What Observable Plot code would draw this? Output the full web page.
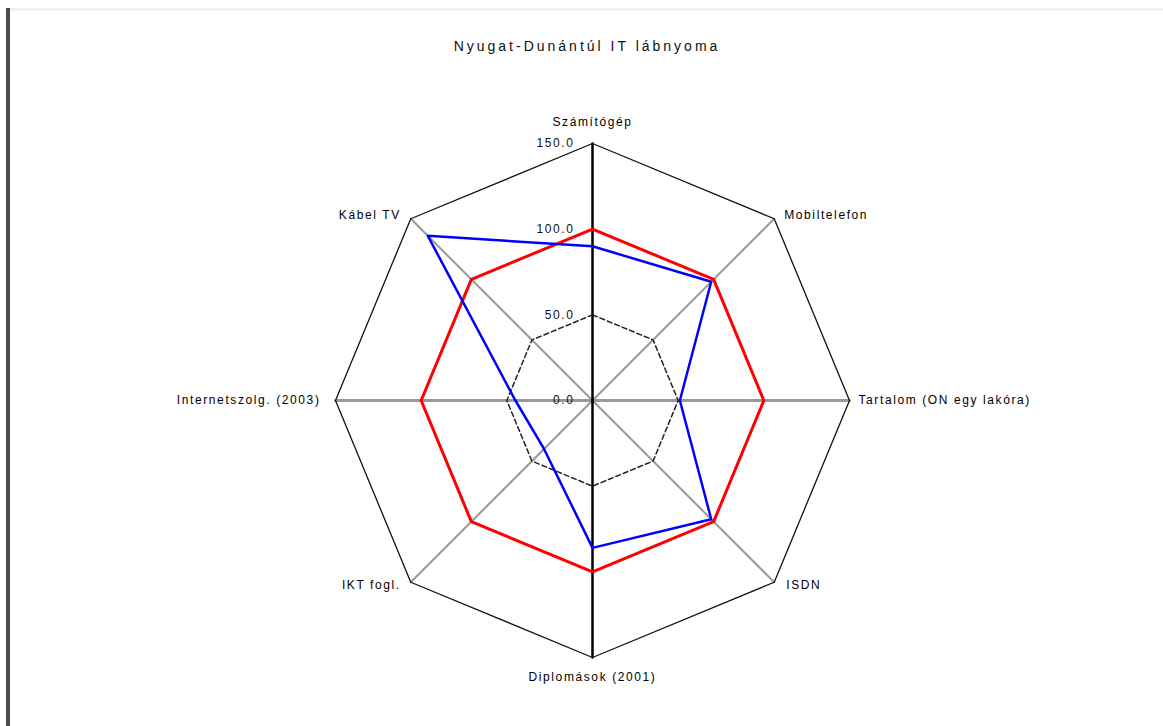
<!DOCTYPE html>
<html>
<head>
<meta charset="utf-8">
<script src="https://cdn.jsdelivr.net/npm/d3@7"></script>
<script src="https://cdn.jsdelivr.net/npm/@observablehq/plot@0.6"></script>
<style>
  html, body { margin: 0; padding: 0; background: #fff; }
  #wrap { position: relative; width: 1163px; height: 726px; overflow: hidden; font-family: "Liberation Sans", Arial, sans-serif; }
  #leftbar { position: absolute; left: 6px; top: 8px; width: 4px; height: 718px; background: #4d4d4d; }
  #topbar { position: absolute; left: 10px; top: 8px; width: 1153px; height: 3px; background: #f0f0f0; }
  #title { position: absolute; left: 0; top: 38px; width: 1174px; text-align: center; font-size: 14px; letter-spacing: 3px; color: #111; }
  #chart { position: absolute; left: 0; top: 0; }
  #chart svg text { letter-spacing: 1.6px; }
</style>
</head>
<body>
<div id="wrap">
  <div id="leftbar"></div>
  <div id="topbar"></div>
  <div id="chart"></div>
  <div id="title">Nyugat-Dunántúl IT lábnyoma</div>
</div>
<script>
// ---- data ----
const categories = ["Számítógép", "Mobiltelefon", "Tartalom (ON egy lakóra)", "ISDN", "Diplomások (2001)", "IKT fogl.", "Internetszolg. (2003)", "Kábel TV"];
const regionValues = [90, 98, 51, 98, 86, 40, 45, 136];     // Nyugat-Dunántúl (blue)
const averageValues = [100, 100, 100, 100, 100, 100, 100, 100]; // Országos átlag (red)
const tickValues = [0, 50, 100, 150];
const tickLabels = ["0.0", "50.0", "100.0", "150.0"];
const rMax = 150;

// ---- geometry helpers ----
const n = categories.length;
const angle = i => (2 * Math.PI * i) / n; // clockwise from top
const pt = (i, r) => ({x: r * Math.sin(angle(i)), y: r * Math.cos(angle(i))});
const ring = r => d3.range(n + 1).map(i => pt(i % n, r));
const series = (vals, name) => d3.range(n + 1).map(i => ({...pt(i % n, vals[i % n]), name}));

const spokes = d3.range(n).flatMap(i => [{...pt(i, 0), i}, {...pt(i, rMax), i}]);
const labels = categories.map((c, i) => ({...pt(i, rMax), label: c, i}));
const ticks = tickValues.map((v, k) => ({x: 0, y: v, label: tickLabels[k]}));

const cx = 592, cy = 400, R = 257;

const plot = Plot.plot({
  width: 1163,
  height: 726,
  margin: 0,
  style: {fontFamily: "'Liberation Sans', Arial, sans-serif", fontSize: "12px", background: "transparent"},
  x: {domain: [-rMax, rMax], range: [cx - R, cx + R], axis: null},
  y: {domain: [-rMax, rMax], range: [cy + R, cy - R], axis: null},
  marks: [
    // diagonal spokes (gray)
    Plot.line(spokes.filter(d => d.i % 2 === 1), {x: "x", y: "y", z: "i", stroke: "#999", strokeWidth: 2}),
    // horizontal spokes (gray, thicker)
    Plot.line(spokes.filter(d => d.i === 2 || d.i === 6), {x: "x", y: "y", z: "i", stroke: "#999", strokeWidth: 3}),
    // bottom vertical spoke (black)
    Plot.line(spokes.filter(d => d.i === 4), {x: "x", y: "y", z: "i", stroke: "#000", strokeWidth: 2.5}),
    // rings
    Plot.line(ring(50), {x: "x", y: "y", stroke: "#222", strokeWidth: 1.5, strokeDasharray: "5,3"}),
    Plot.line(ring(100), {x: "x", y: "y", stroke: "#999", strokeWidth: 1.5, strokeDasharray: "5,3"}),
    Plot.line(ring(150), {x: "x", y: "y", stroke: "#111", strokeWidth: 1.3}),
    // value axis (black, vertical)
    Plot.line(spokes.filter(d => d.i === 0), {x: "x", y: "y", z: "i", stroke: "#000", strokeWidth: 2.5}),
    // series
    Plot.line(series(averageValues, "Országos átlag"), {x: "x", y: "y", stroke: "#ff0000", strokeWidth: 3, curve: "linear-closed"}),
    Plot.line(series(regionValues, "Nyugat-Dunántúl"), {x: "x", y: "y", stroke: "#0000ff", strokeWidth: 2.5, curve: "linear-closed"}),
    // tick labels
    Plot.text(ticks, {x: "x", y: "y", text: "label", textAnchor: "end", dx: -18, dy: 0, fill: "#111"}),
    // category labels
    Plot.text(labels.filter(d => d.i === 0), {x: "x", y: "y", text: "label", dy: -21, fill: "#000"}),
    Plot.text(labels.filter(d => d.i === 4), {x: "x", y: "y", text: "label", dy: 20, fill: "#000"}),
    Plot.text(labels.filter(d => d.i === 1), {x: "x", y: "y", text: "label", textAnchor: "start", dx: 10, dy: -4, fill: "#000"}),
    Plot.text(labels.filter(d => d.i === 3), {x: "x", y: "y", text: "label", textAnchor: "start", dx: 12, dy: 3, fill: "#000"}),
    Plot.text(labels.filter(d => d.i === 2), {x: "x", y: "y", text: "label", textAnchor: "start", dx: 9, fill: "#000"}),
    Plot.text(labels.filter(d => d.i === 6), {x: "x", y: "y", text: "label", textAnchor: "end", dx: -15, fill: "#000"}),
    Plot.text(labels.filter(d => d.i === 7), {x: "x", y: "y", text: "label", textAnchor: "end", dx: -10, dy: -4, fill: "#000"}),
    Plot.text(labels.filter(d => d.i === 5), {x: "x", y: "y", text: "label", textAnchor: "end", dx: -10, dy: 3, fill: "#000"})
  ]
});
document.getElementById("chart").appendChild(plot);
</script>
</body>
</html>
